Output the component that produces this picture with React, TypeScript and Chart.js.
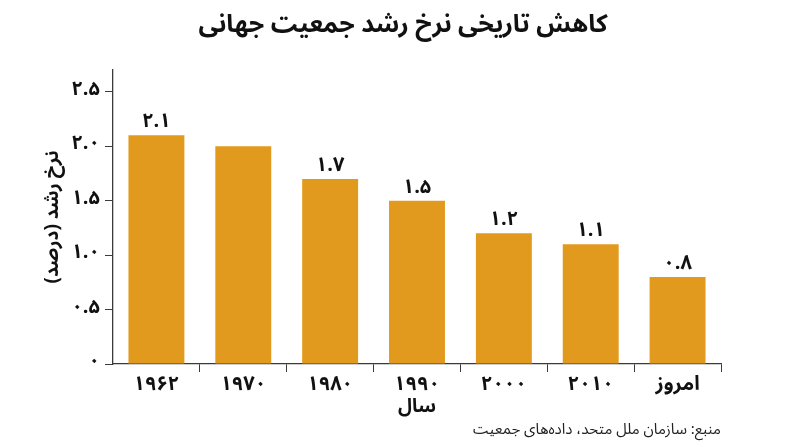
import { useEffect, useRef } from 'react'
import { Chart, registerables, type ChartConfiguration, type Plugin } from 'chart.js'

Chart.register(...registerables)

// Historical decline of world population growth rate (bar chart, Persian labels)

const RLM = '\u200F'
const FONT = '"Noto Sans Arabic", Vazirmatn, "DejaVu Sans", sans-serif'

const categories = ['۱۹۶۲', '۱۹۷۰', '۱۹۸۰', '۱۹۹۰', '۲۰۰۰', '۲۰۱۰', 'امروز']
const growthRates = [2.1, 2.0, 1.7, 1.5, 1.2, 1.1, 0.8]
const valueLabels: (string | null)[] = ['۲.۱', null, '۱.۷', '۱.۵', '۱.۲', '۱.۱', '۰.۸']

const yTickValues = [0, 0.5, 1.0, 1.5, 2.0, 2.5]
const yTickLabels = ['۰', '۰.۵', '۱.۰', '۱.۵', '۲.۰', '۲.۵']

const titleText = 'کاهش تاریخی نرخ رشد جمعیت جهانی'
const yTitleText = RLM + 'نرخ رشد (درصد)' + RLM
const xTitleText = 'سال'
const sourceText = RLM + 'منبع: سازمان ملل متحد، داده‌های جمعیت' + RLM

const BAR = '#E29A1E'
const AXIS = '#3a3a3a'
const INK = '#111111'

const valueLabelPlugin: Plugin<'bar'> = {
  id: 'valueLabels',
  afterDatasetsDraw(chart) {
    const { ctx } = chart
    const meta = chart.getDatasetMeta(0)
    ctx.save()
    ctx.fillStyle = INK
    ctx.font = `bold 20px ${FONT}`
    ctx.textAlign = 'center'
    ctx.textBaseline = 'middle'
    meta.data.forEach((el: any, i) => {
      const txt = valueLabels[i]
      if (!txt) return
      ctx.fillText(txt, el.x, el.y - 11)
    })
    ctx.restore()
  },
}

// title centred on the whole canvas, source note under the plot
const textPlugin: Plugin<'bar'> = {
  id: 'headerFooter',
  afterDraw(chart) {
    const { ctx, chartArea, width } = chart
    ctx.save()
    ctx.fillStyle = INK
    ctx.textBaseline = 'middle'
    ctx.textAlign = 'center'
    ctx.font = `bold 25px ${FONT}`
    ctx.fillText(titleText, width / 2 + 3, 28)
    ctx.fillStyle = '#222'
    ctx.font = `15px ${FONT}`
    ctx.textAlign = 'right'
    ctx.fillText(sourceText, chartArea.right, 432)
    ctx.restore()
  },
}

export default function App() {
  const canvasRef = useRef<HTMLCanvasElement>(null)
  const chartRef = useRef<Chart | null>(null)

  useEffect(() => {
    if (!canvasRef.current) return
    if (chartRef.current) { chartRef.current.destroy(); chartRef.current = null }

    const edgeTick = (ctx: any) =>
      ctx.index === 0 || ctx.index >= categories.length ? 'rgba(0,0,0,0)' : AXIS

    const config: ChartConfiguration<'bar'> = {
      type: 'bar',
      data: {
        labels: categories,
        datasets: [{
          data: growthRates,
          backgroundColor: BAR,
          borderWidth: 0,
          categoryPercentage: 1,
          barPercentage: 0.644,
        }],
      },
      options: {
        responsive: true,
        maintainAspectRatio: false,
        animation: false,
        layout: { padding: { top: 70, left: 0, right: 79, bottom: 26 } },
        scales: {
          x: {
            grid: {
              offset: true,
              drawOnChartArea: false,
              drawTicks: true,
              tickLength: 8,
              color: edgeTick as any,
            },
            border: { display: true, color: AXIS, width: 1.3 },
            ticks: {
              color: INK,
              padding: 3,
              font: { size: 20, weight: 'bold', family: FONT },
              maxRotation: 0,
            },
            title: {
              display: true,
              text: xTitleText,
              color: INK,
              font: { size: 19, weight: 'bold', family: FONT },
              padding: { top: 0, bottom: 0 },
            },
            afterFit: (scale: any) => { scale.height = 57 },
          },
          y: {
            min: 0,
            max: 2.7,
            grid: {
              drawOnChartArea: false,
              drawTicks: true,
              tickLength: 8,
              color: AXIS,
            },
            border: { display: true, color: AXIS, width: 1.3 },
            afterBuildTicks: (scale: any) => {
              scale.ticks = yTickValues.map(v => ({ value: v }))
            },
            ticks: {
              color: INK,
              padding: 5,
              font: { size: 20, weight: 'bold', family: FONT },
              callback: (_v: any, i: number) => yTickLabels[i],
            },
            title: {
              display: true,
              text: yTitleText,
              color: INK,
              font: { size: 19, weight: 'bold', family: FONT },
              padding: { top: 44, bottom: 0 },
            },
            afterFit: (scale: any) => { scale.width = 113 },
          },
        },
        plugins: {
          legend: { display: false },
          tooltip: { enabled: false },
          title: { display: false },
        },
      },
      plugins: [valueLabelPlugin, textPlugin],
    }
    chartRef.current = new Chart(canvasRef.current, config)
    return () => { chartRef.current?.destroy(); chartRef.current = null }
  }, [])

  return (
    <div style={{ position: 'absolute', left: 0, top: 0, width: 800, height: 447, background: '#fff' }}>
      <canvas ref={canvasRef} />
    </div>
  )
}
